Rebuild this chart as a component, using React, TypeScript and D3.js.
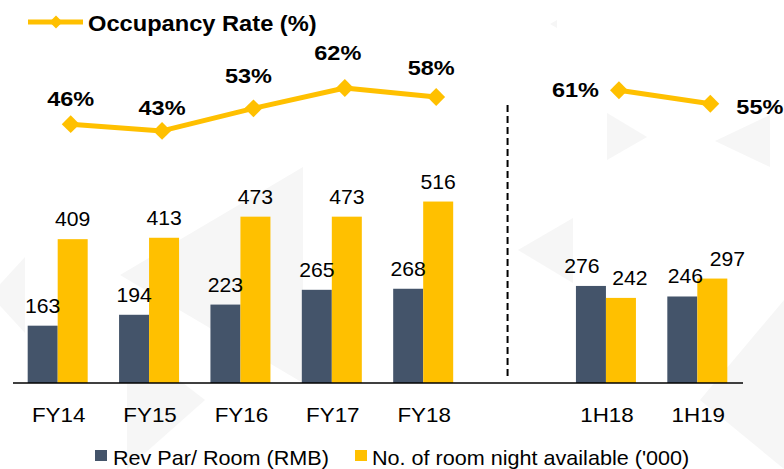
import React from "react";
import { scaleBand, scaleLinear, line, symbol, symbolSquare } from "d3";

const width = 784;
const height = 469;
const baseY = 383;

// "" is the empty slot between full-year and half-year groups
const periods = ["FY14", "FY15", "FY16", "FY17", "FY18", "", "1H18", "1H19"];
const revPar = [163, 194, 223, 265, 268, null, 276, 246];
const roomNights = [409, 413, 473, 473, 516, null, 242, 297];
const occupancy = [46, 43, 53, 62, 58, null, 61, 55];
const seriesNames = ["Rev Par/ Room (RMB)", "No. of room night available ('000)"];
const lineName = "Occupancy Rate (%)";

const dark = "#44546A";
const yellow = "#FFC000";
const font = "'Liberation Sans', Arial, sans-serif";

// label nudges, taken from where the original slide put them
const revNudge = [0, 0, 0, 0, 0, 0, -9, 3];
const nightNudge = [0, 0, 0, 0, 0, 0, 9, 15];
const pctDx = [0, 0, -5, -7, -5, 0, 0, 0];
const pctDy = [-18, -16, -25, -28, -22, 0, 0, 0];

const watermark = [
  "M25,257 L25,333 L-10,295 Z",
  "M303,167 L303,383 L120,275 Z",
  "M127,340 L127,469 L205,400 Z",
  "M607,113 L607,160 L647,137 Z",
  "M770,115 L770,167 L715,141 Z",
  "M573,218 L573,283 L518,250 Z",
  "M784,300 L784,469 L700,400 Z",
  "M557,20 L557,28 L550,24 Z",
];

function SText({ x, y, sx = 1.12, anchor = "start", size = 20, bold = false, children }) {
  return (
    <text
      transform={`translate(${x},${y}) scale(${sx},1)`}
      textAnchor={anchor}
      fontFamily={font}
      fontSize={size}
      fontWeight={bold ? "bold" : "normal"}
      fill="#000"
    >
      {children}
    </text>
  );
}

export default function App() {
  const x = scaleBand().domain(periods).range([12, 743]).padding(0);
  const step = x.bandwidth();
  const barW = 30;
  const groupOff = (step - 2 * barW) / 2;

  const yBar = scaleLinear().domain([0, 600]).range([baseY, 172]);
  const yLine = scaleLinear().domain([40, 65]).range([137.7, 81.2]);

  const pts = periods.map((p, i) => ({
    x: x(p) + step / 2 + 13,
    v: occupancy[i],
  }));
  const path = line()
    .defined((d) => d.v != null)
    .x((d) => d.x)
    .y((d) => yLine(d.v));

  const diamond = symbol().type(symbolSquare).size(160)();
  const smallDiamond = symbol().type(symbolSquare).size(85)();

  const gapX = x("") + step / 2 - 7;
  const halfStart = periods.indexOf("1H18");

  return (
    <svg
      width={width}
      height={height}
      style={{ position: "absolute", left: 0, top: 0, background: "#fff" }}
    >
      {watermark.map((d, i) => (
        <path key={`wm${i}`} d={d} fill="#f6f6f6" />
      ))}

      {/* top legend */}
      <line x1={28} x2={83} y1={22} y2={22} stroke={yellow} strokeWidth={5} />
      <path d={smallDiamond} transform="translate(56,22) rotate(45)" fill={yellow} />
      <SText x={88} y={31} size={21.5} bold sx={1.1}>
        {lineName}
      </SText>

      {/* bars */}
      {periods.map((p, i) =>
        revPar[i] == null ? null : (
          <g key={`bar${i}`}>
            <rect
              x={x(p) + groupOff}
              y={yBar(revPar[i])}
              width={barW}
              height={baseY - yBar(revPar[i])}
              fill={dark}
            />
            <rect
              x={x(p) + groupOff + barW}
              y={yBar(roomNights[i])}
              width={barW}
              height={baseY - yBar(roomNights[i])}
              fill={yellow}
            />
            <SText
              x={x(p) + groupOff + barW / 2 + revNudge[i]}
              y={yBar(revPar[i]) - 13}
              anchor="middle"
              sx={1.06}
            >
              {revPar[i]}
            </SText>
            <SText
              x={x(p) + groupOff + barW * 1.5 + nightNudge[i]}
              y={yBar(roomNights[i]) - 13}
              anchor="middle"
              sx={1.06}
            >
              {roomNights[i]}
            </SText>
          </g>
        )
      )}

      {/* axis */}
      <line x1={13} x2={743} y1={baseY} y2={baseY} stroke="#000" strokeWidth={1.5} />
      {periods.map((p, i) =>
        p === "" ? null : (
          <SText key={`cat${i}`} x={x(p) + step / 2 + 1} y={422} anchor="middle">
            {p}
          </SText>
        )
      )}

      {/* divider */}
      <line
        x1={gapX}
        x2={gapX}
        y1={105}
        y2={377}
        stroke="#000"
        strokeWidth={2}
        strokeDasharray="7,4"
      />

      {/* occupancy line */}
      <path d={path(pts)} fill="none" stroke={yellow} strokeWidth={5} strokeLinejoin="round" />
      {pts.map((d, i) =>
        d.v == null ? null : (
          <path
            key={`pt${i}`}
            d={diamond}
            transform={`translate(${d.x},${yLine(d.v)}) rotate(45)`}
            fill={yellow}
          />
        )
      )}
      {pts.map((d, i) => {
        if (d.v == null) return null;
        const py = yLine(d.v);
        if (i === halfStart)
          return (
            <SText key={`pl${i}`} x={d.x - 20} y={py + 7} anchor="end" size={21} bold>
              {`${d.v}%`}
            </SText>
          );
        if (i > halfStart)
          return (
            <SText key={`pl${i}`} x={d.x + 26} y={py + 10} size={21} bold>
              {`${d.v}%`}
            </SText>
          );
        return (
          <SText
            key={`pl${i}`}
            x={d.x + pctDx[i]}
            y={py + pctDy[i]}
            anchor="middle"
            size={21}
            bold
          >
            {`${d.v}%`}
          </SText>
        );
      })}

      {/* bottom legend */}
      <rect x={95} y={450} width={12} height={11} fill={dark} />
      <SText x={113} y={465} sx={1.08}>
        {seriesNames[0]}
      </SText>
      <rect x={355} y={450} width={12} height={11} fill={yellow} />
      <SText x={372} y={465} sx={1.08}>
        {seriesNames[1]}
      </SText>
    </svg>
  );
}
